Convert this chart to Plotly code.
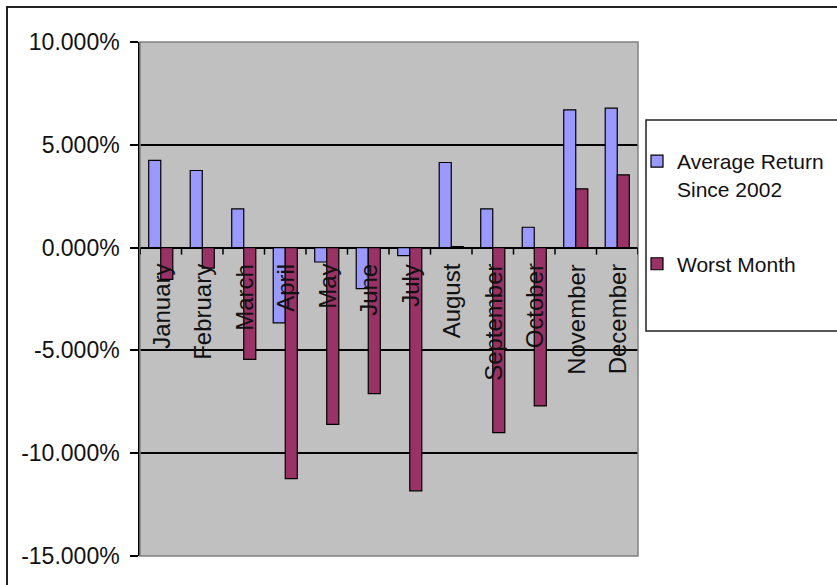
import plotly.graph_objects as go

# Monthly data (fractions)
months = ["January", "February", "March", "April", "May", "June",
          "July", "August", "September", "October", "November", "December"]
avg_return = [0.0424, 0.0375, 0.0188, -0.0366, -0.0070, -0.0200,
              -0.0039, 0.0414, 0.0188, 0.0099, 0.0670, 0.0678]
worst_month = [-0.0155, -0.0100, -0.0544, -0.1124, -0.0860, -0.0710,
               -0.1183, 0.0005, -0.0900, -0.0770, 0.0286, 0.0354]
y_ticks = [-0.15, -0.10, -0.05, 0.0, 0.05, 0.10]
y_tick_text = ["-15.000%", "-10.000%", "-5.000%", "0.000%", "5.000%", "10.000%"]

FONT = "Liberation Sans, Arial, sans-serif"
W, H = 837, 585
L, R, T, B = 140, 199, 42, 29
pw = W - L - R
ph = H - T - B


def px_x(p):
    return (p - L) / pw


def px_y(p):
    return 1 - (p - T) / ph


fig = go.Figure()
fig.add_trace(go.Bar(
    x=months, y=avg_return, name="Average Return<br>Since 2002",
    legendgroup="a",
    marker=dict(color="#9999FF", line=dict(color="#000000", width=1.2)),
))
fig.add_trace(go.Bar(
    x=months, y=worst_month, name="Worst Month",
    legendgroup="b",
    marker=dict(color="#993366", line=dict(color="#000000", width=1.2)),
))

shapes = []
# outer chart frame
shapes.append(dict(type="rect", xref="paper", yref="paper",
                   x0=px_x(7), x1=px_x(860), y0=px_y(7), y1=px_y(620),
                   line=dict(color="#222222", width=2), fillcolor="rgba(0,0,0,0)",
                   layer="below"))
# legend frame
shapes.append(dict(type="rect", xref="paper", yref="paper",
                   x0=px_x(646), x1=px_x(860), y0=px_y(120), y1=px_y(331),
                   line=dict(color="#222222", width=1.5), fillcolor="#FFFFFF",
                   layer="below"))
# plot-area border
shapes.append(dict(type="rect", xref="paper", yref="paper",
                   x0=0, x1=1, y0=0, y1=1,
                   line=dict(color="#808080", width=1.5), fillcolor="rgba(0,0,0,0)",
                   layer="above"))
# category-axis tick marks along the zero line
for i in range(len(months) + 1):
    shapes.append(dict(type="line", xref="x", yref="y",
                       ysizemode="pixel", yanchor=0,
                       x0=i - 0.5, x1=i - 0.5, y0=0, y1=-7,
                       line=dict(color="#000000", width=1.5)))

annotations = []
for m in months:
    annotations.append(dict(x=m, y=0, xref="x", yref="y", text=m,
                            showarrow=False, textangle=-90,
                            xanchor="center", yanchor="top", yshift=-14,
                            font=dict(family=FONT, size=24, color="#111111")))

fig.update_layout(
    width=W, height=H,
    margin=dict(l=L, r=R, t=T, b=B, pad=0, autoexpand=False),
    paper_bgcolor="#FFFFFF",
    plot_bgcolor="#C0C0C0",
    barmode="group", bargap=0.42, bargroupgap=0,
    font=dict(family=FONT, size=23, color="#111111"),
    shapes=shapes, annotations=annotations,
    legend=dict(x=px_x(637), y=px_y(141), xanchor="left", yanchor="top",
                bgcolor="rgba(0,0,0,0)", borderwidth=0,
                tracegroupgap=45, valign="top",
                font=dict(family=FONT, size=21, color="#111111")),
    xaxis=dict(showticklabels=False, showgrid=False, zeroline=False,
               showline=False, ticks="", range=[-0.5, len(months) - 0.5]),
    yaxis=dict(range=[-0.15, 0.10], tickvals=y_ticks, ticktext=y_tick_text,
               showgrid=True, gridcolor="#000000", gridwidth=1.5,
               zeroline=True, zerolinecolor="#000000", zerolinewidth=1.5,
               showline=True, linecolor="#000000", linewidth=1.5,
               ticks="outside", ticklen=8, tickcolor="#000000", tickwidth=1.5,
               ticklabelstandoff=6,
               tickfont=dict(family=FONT, size=23, color="#111111")),
)

fig.write_html("out.html")
